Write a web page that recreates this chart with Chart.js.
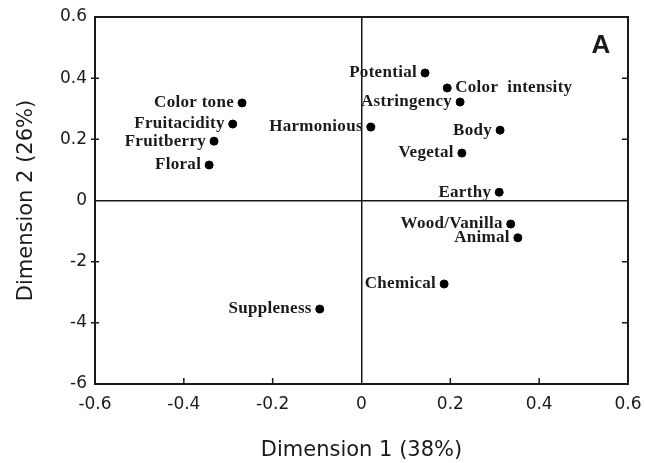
<!DOCTYPE html>
<html>
<head>
<meta charset="utf-8">
<script src="https://cdn.jsdelivr.net/npm/chart.js@4/dist/chart.umd.min.js"></script>
<style>
  html, body { margin: 0; padding: 0; background: #fff; }
  #wrap { width: 645px; height: 463px; }
</style>
</head>
<body>
<div id="wrap"><canvas id="myChart" width="645" height="463"></canvas></div>
<script>
// attribute names and their coordinates on the two dimensions
var attributes = ["Potential", "Color  intensity", "Astringency", "Harmonious", "Body", "Vegetal", "Earthy",
  "Wood/Vanilla", "Animal", "Chemical", "Suppleness", "Color tone", "Fruitacidity", "Fruitberry", "Floral"];
var dim1 = [0.143, 0.193, 0.222, 0.021, 0.312, 0.226, 0.310, 0.336, 0.352, 0.186, -0.094, -0.269, -0.290, -0.332, -0.343];
var dim2 = [0.417, 0.368, 0.322, 0.240, 0.230, 0.155, 0.027, -0.077, -0.122, -0.273, -0.355, 0.319, 0.250, 0.194, 0.116];

var xTicks = [-0.6, -0.4, -0.2, 0, 0.2, 0.4, 0.6];
var xTickLabels = ["-0.6", "-0.4", "-0.2", "0", "0.2", "0.4", "0.6"];
var yTicks = [-0.6, -0.4, -0.2, 0, 0.2, 0.4, 0.6];
var yTickLabels = ["-6", "-4", "-2", "0", "0.2", "0.4", "0.6"];

var ink = "#1a1a1a";

function tickLabel(values, labels, v) {
  for (var i = 0; i < values.length; i++) {
    if (Math.abs(values[i] - v) < 1e-6) return labels[i];
  }
  return "";
}

// frame, small tick marks, point labels and the panel letter
const annotate = {
  id: "annotate",
  afterDatasetsDraw(chart) {
    const ctx = chart.ctx;
    const a = chart.chartArea;
    const xs = chart.scales.x, ys = chart.scales.y;
    ctx.save();
    ctx.strokeStyle = ink;
    ctx.lineWidth = 2;
    ctx.strokeRect(a.left, a.top, a.right - a.left, a.bottom - a.top);

    ctx.lineWidth = 1.5;
    ctx.beginPath();
    xTicks.forEach(v => {
      if (v === 0 || Math.abs(v) === 0.6) return;
      const px = xs.getPixelForValue(v);
      ctx.moveTo(px, a.bottom); ctx.lineTo(px, a.bottom - 6);
    });
    yTicks.forEach(v => {
      if (v === 0 || Math.abs(v) === 0.6) return;
      const py = ys.getPixelForValue(v);
      ctx.moveTo(a.left - 4, py); ctx.lineTo(a.left + 4, py);
      ctx.moveTo(a.right, py); ctx.lineTo(a.right - 6, py);
    });
    ctx.stroke();

    ctx.fillStyle = ink;
    ctx.font = "bold 17px 'Liberation Serif', 'Times New Roman', serif";
    ctx.letterSpacing = "0.3px";
    ctx.textBaseline = "middle";
    attributes.forEach((name, i) => {
      const px = xs.getPixelForValue(dim1[i]);
      const py = ys.getPixelForValue(dim2[i]);
      if (name.indexOf("intensity") >= 0) {
        ctx.textAlign = "left";
        ctx.fillText(name, px + 8, py);
      } else {
        ctx.textAlign = "right";
        ctx.fillText(name, px - 8, py);
      }
    });

    ctx.letterSpacing = "0px";
    ctx.font = "bold 26px 'Liberation Sans', Arial, sans-serif";
    ctx.textAlign = "center";
    ctx.textBaseline = "alphabetic";
    ctx.fillText("A", 601, 53);
    ctx.restore();
  }
};

new Chart(document.getElementById("myChart"), {
  type: "scatter",
  data: {
    datasets: [{
      label: "Attributes",
      data: dim1.map((x, i) => ({ x: x, y: dim2[i] })),
      backgroundColor: "#000",
      borderColor: "#000",
      pointRadius: 4,
      pointHoverRadius: 4
    }]
  },
  options: {
    responsive: false,
    animation: false,
    layout: { padding: { left: 0, right: 17, top: 17, bottom: 0 } },
    plugins: { legend: { display: false }, tooltip: { enabled: false } },
    scales: {
      x: {
        type: "linear",
        min: -0.6, max: 0.6,
        afterBuildTicks: s => { s.ticks = xTicks.map(v => ({ value: v })); },
        afterFit: s => { s.height = 79; s.paddingLeft = 0; s.paddingRight = 0; },
        border: { display: false },
        grid: {
          drawTicks: false,
          color: c => (c.tick && c.tick.value === 0 ? ink : "transparent"),
          lineWidth: 1.5
        },
        ticks: {
          padding: 10,
          color: ink,
          font: { family: "'DejaVu Sans', sans-serif", size: 17 },
          callback: v => tickLabel(xTicks, xTickLabels, v)
        },
        title: {
          display: true,
          text: "Dimension 1 (38%)",
          color: ink,
          font: { family: "'DejaVu Sans', sans-serif", size: 21 },
          padding: { top: 0, bottom: 0 }
        }
      },
      y: {
        type: "linear",
        min: -0.6, max: 0.6,
        afterBuildTicks: s => { s.ticks = yTicks.map(v => ({ value: v })); },
        afterFit: s => { s.width = 95; s.paddingTop = 0; s.paddingBottom = 0; },
        border: { display: false },
        grid: {
          drawTicks: false,
          color: c => (c.tick && c.tick.value === 0 ? ink : "transparent"),
          lineWidth: 1.5
        },
        ticks: {
          padding: 8,
          color: ink,
          font: { family: "'DejaVu Sans', sans-serif", size: 17 },
          callback: v => tickLabel(yTicks, yTickLabels, v)
        },
        title: {
          display: true,
          text: "Dimension 2 (26%)",
          color: ink,
          font: { family: "'DejaVu Sans', sans-serif", size: 21 },
          padding: { top: 14, bottom: 0 }
        }
      }
    }
  },
  plugins: [annotate]
});
</script>
</body>
</html>
